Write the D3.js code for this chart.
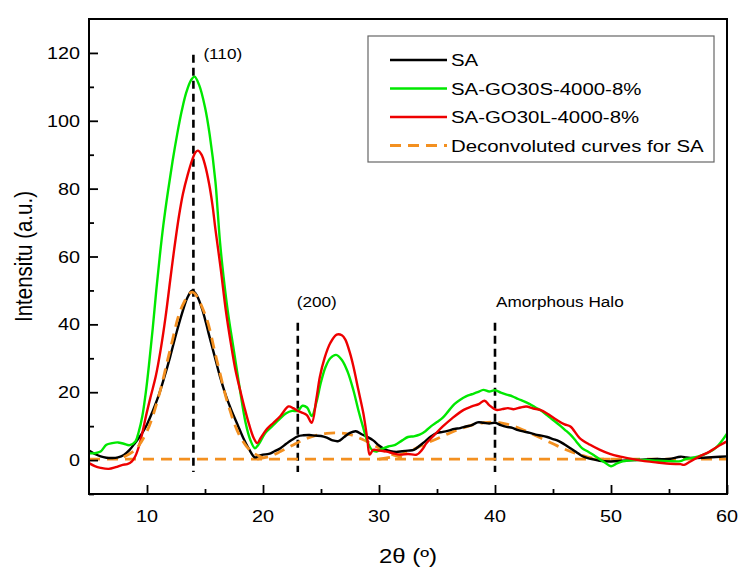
<!DOCTYPE html>
<html>
<head>
<meta charset="utf-8">
<script src="https://cdn.jsdelivr.net/npm/d3@7"></script>
<style>
  html, body { margin: 0; padding: 0; background: #fff; }
  svg { display: block; font-family: Arial, "Liberation Sans", sans-serif; }
</style>
</head>
<body>
<svg id="chart" width="748" height="580"></svg>
<script>
// XRD patterns: SA vs GO composites
const seriesSA = [
  [5,2.8],[5.5,1.8],[6,1.1],[6.5,0.7],[7,0.6],[7.5,0.8],[8,1.5],[8.5,3],[9,5.2],[9.5,7.5],
  [10,10.5],[10.5,14.5],[11,19],[11.5,24.5],[12,30.5],[12.5,37],[13,43],[13.5,48],[13.9,50],
  [14.3,48.5],[14.8,44],[15.3,37.5],[15.8,31],[16.3,24.5],[16.8,19],[17.3,14.5],[17.8,10.5],
  [18.3,6.5],[18.8,3.2],[19.3,0.8],[19.6,1.2],[20,1.6],[20.5,1.8],[21,2.6],[21.5,3.5],[22,4.8],
  [22.5,6],[23,7],[23.5,7.3],[24,7.4],[24.5,7.2],[25,7.1],[25.5,6.6],[26,5.8],[26.5,5.6],
  [27,6.8],[27.5,8],[28,8.5],[28.5,7.6],[29,6.8],[29.5,5.8],[30,4.3],[30.5,3.2],[31,2.6],
  [31.5,2.4],[32,2.6],[32.5,2.8],[33,3],[33.5,4.2],[34,5.6],[34.5,7],[35,8],[35.5,8.3],
  [36,8.7],[36.5,9.2],[37,9.4],[37.5,9.9],[38,10.3],[38.5,11.1],[39,11],[39.5,10.8],[40,11],
  [40.5,10.3],[41,9.8],[41.5,9.5],[42,8.8],[42.5,8.4],[43,8],[43.5,7.5],[44,7.2],[44.5,6.8],
  [45,6.2],[45.5,5.6],[46,4.6],[46.5,3.5],[47,2.4],[47.5,1.2],[48,0.6],[48.5,0.2],[49,-0.2],
  [50,-0.4],[51,-0.2],[52,0],[53,0.2],[54,0.3],[55,0.3],[56,1],[56.5,0.8],[57,0.6],[58,0.7],
  [59,0.9],[60,1.1]
];
const seriesGO30S = [
  [5,2],[5.5,2],[6,2.5],[6.5,4.5],[7,5],[7.5,5.2],[8,4.8],[8.5,4.4],[9,5.5],[9.3,8.5],[9.6,13],
  [9.9,20],[10.2,29],[10.5,39],[10.8,50],[11.1,60],[11.4,69],[11.8,79],[12.2,88],[12.6,96],
  [13,103],[13.4,108.5],[13.8,112],[14.1,113],[14.5,110.5],[15,104],[15.4,96],[15.9,82],[16.1,73],
  [16.3,64],[16.6,54],[17,43],[17.5,32],[18,21],[18.5,11],[18.9,6],[19.3,3.5],[19.6,4.5],
  [20.2,8],[20.8,10],[21.4,12],[22,13.8],[22.5,14.5],[23,14.5],[23.4,16],[23.8,15.5],[24.2,13],
  [24.6,17],[25,23],[25.4,27.5],[25.8,30],[26.3,31],[26.8,29.5],[27.3,26],[27.8,20.5],
  [28.2,15],[28.6,10],[29,5.5],[29.4,3],[29.8,2.5],[30.2,3.2],[30.8,4],[31.4,4.5],[32,5.8],
  [32.5,6.8],[33,7],[33.5,7.5],[34,8.5],[34.5,10],[35,11.2],[35.5,12.5],[36,14.5],[36.5,16.5],
  [37,17.8],[37.5,18.8],[38,19.4],[38.5,20],[39,20.7],[39.5,20.2],[40,20.6],[40.5,19.9],
  [41,19.3],[41.5,18.8],[42,18],[42.5,17.3],[43,16.5],[43.5,15.5],[44,14.5],[44.5,13.2],
  [45,11.8],[45.5,10.5],[46,9],[46.5,7.5],[47,5.5],[47.5,3.5],[48,2.5],[48.5,1.5],[49,0.3],
  [49.5,-0.8],[50,-1.8],[50.5,-1],[51,-0.4],[52,0],[53,0],[54,-0.2],[55,-0.3],[56,-0.3],
  [56.5,0.4],[57,0.6],[58,1.6],[59,3.5],[60,7.8]
];
const seriesGO30L = [
  [5,-0.9],[5.5,-1.8],[6,-2.3],[6.7,-2.6],[7.3,-2.1],[7.9,-1.4],[8.3,-1.2],[8.7,-0.4],[9,1.2],
  [9.3,4],[9.6,8],[9.9,12.8],[10.3,18.5],[10.75,24.6],[11.2,33],[11.6,42.2],[12,53],[12.3,61],
  [12.76,72],[13.1,78.5],[13.5,84],[13.9,88.5],[14.2,90.8],[14.4,91.2],[14.7,90],[15,87],
  [15.35,81.5],[15.65,75],[15.9,68],[16.35,56.5],[16.8,44],[17.2,35],[17.6,27],[18,21],
  [18.4,15.5],[18.8,10.5],[19.2,6.5],[19.5,5],[19.8,6.5],[20.3,9],[20.9,11],[21.5,13],[22.2,15.8],
  [22.6,15.3],[23,14.5],[23.5,13.8],[23.8,13.2],[24.2,11],[24.6,18],[24.9,24.5],[25.3,30],
  [25.8,34.5],[26.35,37],[26.8,36.8],[27.1,35.5],[27.5,31.5],[27.8,27.5],[28.2,21],[28.65,13.8],
  [29,6],[29.2,1.6],[29.5,3],[30,2.8],[30.66,2.5],[31.2,2],[31.8,1.6],[32.5,1.8],[33.25,1.6],
  [33.7,3],[34.1,5],[34.8,7.5],[35.5,9.9],[36.3,12.3],[37.3,14.8],[38,15.8],[38.6,16.5],
  [39.1,17.5],[39.5,16.2],[40.1,14.8],[40.6,15],[41.1,15.3],[41.6,15],[42.2,15.5],[42.7,15.8],
  [43.3,15.2],[43.9,14.8],[44.6,13.5],[45.3,11.9],[46,10.5],[46.5,9.9],[47.3,6.5],[48.2,4.5],
  [49.05,3],[49.9,1.8],[50.8,1],[52,0.2],[53.1,-0.4],[54,-0.7],[55.1,-1.1],[56,-1.2],
  [56.3,-1.4],[56.8,-0.5],[57.6,1],[58.5,2.5],[59.2,4],[60,5.5]
];
// deconvoluted components of SA
const deconvPeak1 = [
  [8,0.9],[9,3.1],[10,8.5],[11,18.7],[12,32.6],[13,45.1],[13.9,49.5],[15,43],[16,29.7],
  [17,16.3],[18,7.1],[19,2.5],[20,0.7]
];
const deconvPeak2 = [
  [19.5,0.3],[20.5,1],[21.5,2.5],[22.5,4.3],[23.5,6],[24.5,7.2],[25.5,7.9],[26.5,8],[27.5,7.5],
  [28.5,6.2],[29.5,4.5],[30.5,2.6],[31.5,1.2],[32.5,0.3]
];
const deconvPeak3 = [
  [30,0.3],[31,0.8],[32,1.8],[33,3.2],[34,4.8],[35,6.3],[36,7.8],[37,9.2],[38,10.3],[39,11],
  [40,11.2],[41,10.6],[42,9.5],[43,8],[44,6.4],[45,4.8],[46,3.2],[47,1.9],[48,0.9],[49,0.3],[50,0.3]
];
const deconvBase = [[5,0.3],[60,0.3]];

const seriesNames = ["SA", "SA-GO30S-4000-8%", "SA-GO30L-4000-8%", "Deconvoluted curves for SA"];
const seriesColors = ["#000000", "#00e800", "#ee0000", "#f39020"];

const refPos = [14, 23, 40];
const refTop = [119.5, 40.5, 40.5];
const refLabels = ["(110)", "(200)", "Amorphous Halo"];

const xTicks = [10, 20, 30, 40, 50, 60];
const xMinor = [15, 25, 35, 45, 55];
const yTicks = [0, 20, 40, 60, 80, 100, 120];
const yMinor = [-10, 10, 30, 50, 70, 90, 110];

// layout
const W = 748, H = 580;
const m = { left: 89, right: 21, top: 19, bottom: 86 };
const SX = 1.2; // source figure is horizontally stretched

const svg = d3.select('#chart');
const x = d3.scaleLinear().domain([5, 60]).range([m.left, W - m.right]);
const y = d3.scaleLinear().domain([-10, 130]).range([H - m.bottom, m.top]);

function stext(px, py, str, size, anchor) {
  return svg.append('text')
    .attr('transform', `translate(${px},${py}) scale(${SX},1)`)
    .attr('font-size', size).attr('text-anchor', anchor || 'start')
    .attr('fill', '#000').text(str);
}

svg.append('clipPath').attr('id', 'plotClip').append('rect')
  .attr('x', m.left).attr('y', m.top)
  .attr('width', W - m.left - m.right).attr('height', H - m.top - m.bottom);

const plot = svg.append('g').attr('clip-path', 'url(#plotClip)');
const line = d3.line().x(d => x(d[0])).y(d => y(d[1])).curve(d3.curveCatmullRom.alpha(0.5));

// reference dashed lines
refPos.forEach((p, i) => {
  plot.append('line')
    .attr('x1', x(p)).attr('x2', x(p)).attr('y1', y(refTop[i])).attr('y2', y(-3.5))
    .attr('stroke', '#000').attr('stroke-width', 2.6).attr('stroke-dasharray', '8,5');
});

// deconvoluted (orange dashed)
[deconvBase, deconvPeak2, deconvPeak3].forEach(d => {
  plot.append('path').datum(d).attr('d', line)
    .attr('fill', 'none').attr('stroke', seriesColors[3]).attr('stroke-width', 2.8)
    .attr('stroke-dasharray', '11,7');
});

// measured patterns
[[seriesSA, 0], [seriesGO30S, 1], [seriesGO30L, 2]].forEach(([d, i]) => {
  plot.append('path').datum(d).attr('d', line)
    .attr('fill', 'none').attr('stroke', seriesColors[i]).attr('stroke-width', 2.4)
    .attr('stroke-linejoin', 'round');
});
// main deconvoluted peak sits on top of the SA trace
plot.append('path').datum(deconvPeak1).attr('d', line)
  .attr('fill', 'none').attr('stroke', seriesColors[3]).attr('stroke-width', 2.8)
  .attr('stroke-dasharray', '11,7');

// frame
svg.append('rect')
  .attr('x', m.left).attr('y', m.top)
  .attr('width', W - m.left - m.right).attr('height', H - m.top - m.bottom)
  .attr('fill', 'none').attr('stroke', '#000').attr('stroke-width', 2);

// axes: inward ticks
const gx = svg.append('g').attr('transform', `translate(0,${H - m.bottom})`);
gx.call(d3.axisBottom(x).tickValues(xTicks).tickSize(-9).tickFormat(''));
gx.append('g').call(d3.axisBottom(x).tickValues(xMinor).tickSize(-5).tickFormat(''));
const gy = svg.append('g').attr('transform', `translate(${m.left},0)`);
gy.call(d3.axisLeft(y).tickValues(yTicks).tickSize(-9).tickFormat(''));
gy.append('g').call(d3.axisLeft(y).tickValues(yMinor).tickSize(-5).tickFormat(''));
svg.selectAll('.domain').remove();
svg.selectAll('.tick line').attr('stroke', '#000').attr('stroke-width', 1.8);

xTicks.forEach(t => stext(x(t), H - m.bottom + 28, String(t), 16.5, 'middle'));
yTicks.forEach(t => stext(m.left - 9, y(t) + 6, String(t), 16.5, 'end'));

// axis titles
stext((m.left + W - m.right) / 2, 563, '2\u03B8 (\u00BA)', 20, 'middle');
svg.append('text')
  .attr('transform', `translate(32,${(m.top + H - m.bottom) / 2}) scale(${SX},1) rotate(-90)`)
  .attr('font-size', 20.5).attr('text-anchor', 'middle').attr('fill', '#000')
  .text('Intensitu (a.u.)');

// peak labels
stext(x(refPos[0]) + 10, y(refTop[0]) + 4, refLabels[0], 14.3);
stext(x(refPos[1]) - 1, 307, refLabels[1], 14.3);
stext(x(refPos[2]) + 1, 307, refLabels[2], 14.3);

// legend
const lg = svg.append('g');
lg.append('rect').attr('x', 368).attr('y', 36).attr('width', 346).attr('height', 126)
  .attr('fill', '#fff').attr('stroke', '#666').attr('stroke-width', 1.2);
seriesNames.forEach((name, i) => {
  const ly = 60 + i * 28.5;
  lg.append('line').attr('x1', 390).attr('x2', 447).attr('y1', ly).attr('y2', ly)
    .attr('stroke', seriesColors[i]).attr('stroke-width', i === 3 ? 2.8 : 2.4)
    .attr('stroke-dasharray', i === 3 ? '11,7' : null);
  stext(451, ly + 6, name, 17);
});
</script>
</body>
</html>
